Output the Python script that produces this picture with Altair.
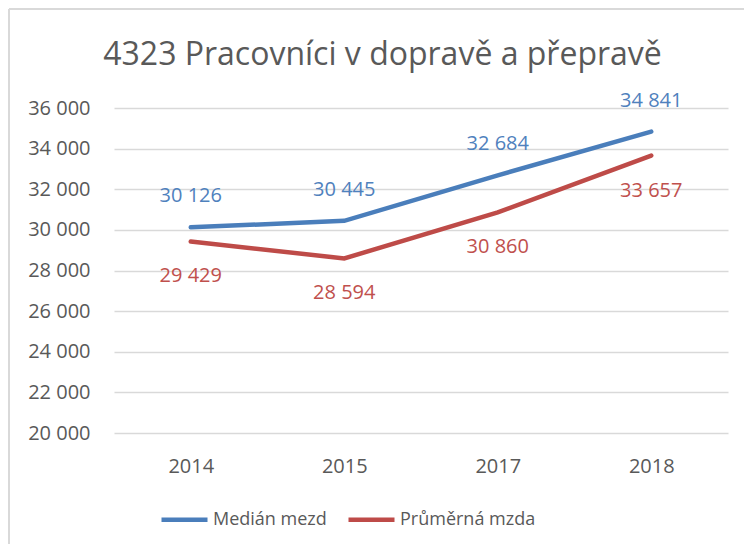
import altair as alt
import pandas as pd

years = ["2014", "2015", "2017", "2018"]
median_mezd = [30126, 30445, 32684, 34841]
prumerna_mzda = [29429, 28594, 30860, 33657]
series_names = ["Medián mezd", "Průměrná mzda"]
colors = ["#4A7EBB", "#BE4B48"]
label_colors = ["#4F81BD", "#C0504D"]
title_text = "4323 Pracovníci v dopravě a přepravě"

rows = []
for s, vals in zip(series_names, [median_mezd, prumerna_mzda]):
    for y, v in zip(years, vals):
        rows.append({"year": y, "series": s, "value": v,
                     "label": f"{v:,}".replace(",", " ")})
df = pd.DataFrame(rows)

FONT = "Open Sans"
TXT = "#595959"

x_enc = alt.X("year:O", sort=years,
              scale=alt.Scale(type="point", padding=0.5),
              axis=alt.Axis(title=None, domain=False, ticks=False, labelAngle=0,
                            labelFontSize=20, labelColor=TXT, labelFont=FONT,
                            labelPadding=23, grid=False))
y_enc = alt.Y("value:Q", scale=alt.Scale(domain=[20000, 36000], nice=False, zero=False),
              axis=alt.Axis(title=None, values=list(range(20000, 36001, 2000)),
                            domain=False, ticks=False, labelFontSize=20, labelColor=TXT,
                            labelFont=FONT, labelPadding=24, gridColor="#d9d9d9",
                            gridWidth=1.5,
                            labelExpr="replace(format(datum.value, ','), ',', ' ')"))

base = alt.Chart(df)

lines = base.mark_line(strokeWidth=4.5, strokeCap="round").encode(
    x=x_enc, y=y_enc,
    color=alt.Color("series:N",
                    scale=alt.Scale(domain=series_names, range=colors),
                    legend=alt.Legend(title=None, orient="none", direction="horizontal",
                                      legendX=45, legendY=386,
                                      symbolType="stroke", symbolSize=2116,
                                      symbolStrokeWidth=4.5, labelFontSize=18,
                                      labelFont=FONT, labelColor=TXT, labelOffset=3,
                                      columnPadding=12, padding=0)),
)

lab_blue = base.transform_filter(alt.datum.series == series_names[0]).mark_text(
    dy=-31, fontSize=20, font=FONT, color=label_colors[0], baseline="middle"
).encode(x=alt.X("year:O", sort=years), y="value:Q", text="label:N")

lab_red = base.transform_filter(alt.datum.series == series_names[1]).mark_text(
    dy=35, fontSize=20, font=FONT, color=label_colors[1], baseline="middle"
).encode(x=alt.X("year:O", sort=years), y="value:Q", text="label:N")

title = alt.Chart(alt.Data(values=[{"t": title_text}])).mark_text(
    fontSize=32, font=FONT, color=TXT, align="center", baseline="alphabetic"
).encode(x=alt.value(268.5), y=alt.value(-43), text="t:N")

frame_left = alt.Chart(alt.Data(values=[{"a": 1}])).mark_rule(
    stroke="#d9d9d9", strokeWidth=2
).encode(x=alt.value(-105), x2=alt.value(-105), y=alt.value(-99), y2=alt.value(500))

frame_top = alt.Chart(alt.Data(values=[{"a": 1}])).mark_rule(
    stroke="#d9d9d9", strokeWidth=2
).encode(x=alt.value(-105), x2=alt.value(700), y=alt.value(-99), y2=alt.value(-99))

chart = alt.layer(frame_left, frame_top, title, lines, lab_blue, lab_red).properties(
    width=614, height=325,
    padding={"left": 106, "top": 100, "right": 16, "bottom": 111},
    autosize=alt.AutoSizeParams(type="none"),
).configure_view(stroke=None)

chart.save("out.html", embed_options={"renderer": "svg", "actions": False})
